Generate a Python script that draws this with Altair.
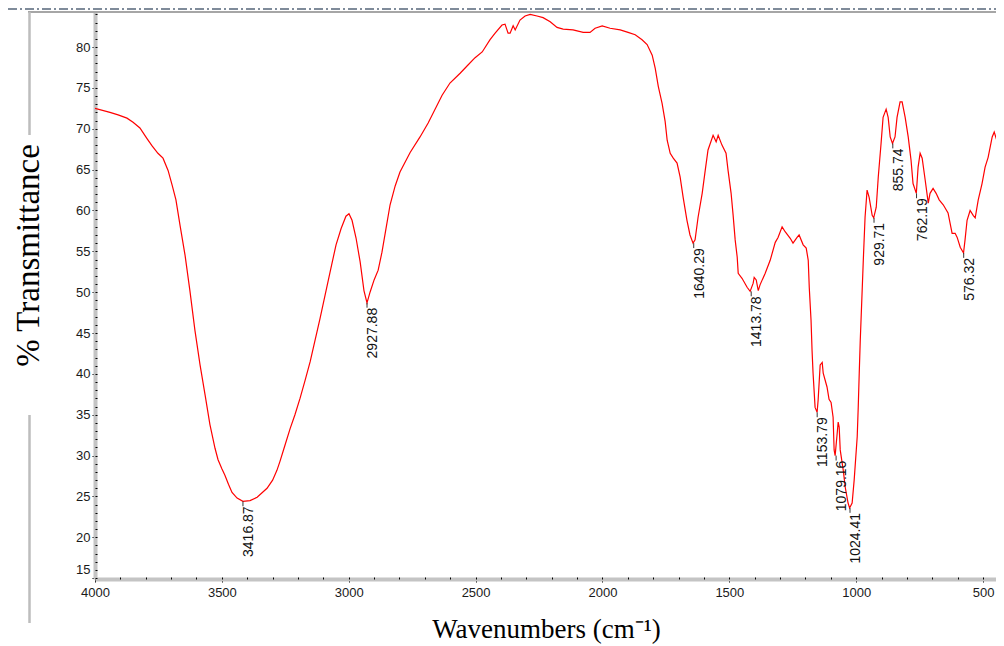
import altair as alt
import pandas as pd

# ---- spectrum (wavenumber cm-1, % transmittance) ----
wavenumber = [4000, 3941, 3909, 3874, 3850, 3823, 3795, 3775, 3752, 3732, 3712, 3696, 3681, 3665,
              3645, 3626, 3606, 3586, 3566, 3547, 3527, 3515, 3500, 3488, 3474, 3460, 3440, 3417,
              3389, 3361, 3322, 3300, 3283, 3271, 3251, 3231, 3212, 3192, 3172, 3152, 3113, 3074,
              3050, 3030, 3011, 2999, 2987, 2971,
              2955, 2940, 2928, 2916, 2900, 2884, 2869, 2853, 2837, 2817, 2798, 2758, 2719, 2687,
              2632, 2601, 2561, 2530, 2502, 2474, 2443, 2423, 2396, 2384, 2372, 2364, 2352, 2344,
              2325, 2305, 2285, 2258, 2234, 2206, 2179, 2155, 2116, 2076, 2049, 2029, 2001, 1970,
              1930, 1899, 1871, 1844, 1824, 1804, 1792, 1780, 1765, 1753, 1745, 1733, 1721, 1706,
              1694, 1682, 1667, 1655, 1643, 1635, 1623, 1607, 1595, 1584, 1564, 1552, 1544, 1529,
              1513, 1505, 1493, 1485, 1477, 1469, 1465, 1450, 1430, 1418, 1406, 1402, 1394, 1386,
              1379, 1359, 1339, 1319, 1308, 1292, 1280, 1260, 1249, 1233, 1225, 1209, 1197, 1189,
              1185, 1178, 1174, 1170, 1162, 1154, 1150, 1142, 1134, 1130, 1115, 1107, 1099, 1091,
              1087, 1083, 1075, 1071, 1067, 1063, 1051, 1043, 1032, 1026, 1016, 1008, 996, 992,
              988, 984, 976, 972, 965, 957, 949, 937, 931, 921, 913, 902, 894, 882, 874, 866, 857,
              847, 839, 827, 819, 807, 795, 784, 776, 763, 756, 748, 740, 728, 716, 709, 697, 685,
              673, 657, 638, 622, 610, 602, 590, 577, 571, 563, 551, 539, 531, 519, 504, 492, 480,
              464, 456, 444, 436, 425, 417]
transmittance = [72.5, 72.0, 71.7, 71.3, 70.8, 70.1, 68.8, 67.9, 67.0, 66.4, 64.9, 63.1, 61.3, 58.2,
                 54.5, 50.2, 45.3, 41.1, 37.4, 33.8, 30.9, 29.5, 28.4, 27.6, 26.5, 25.5, 24.8, 24.4,
                 24.5, 24.9, 26.0, 27.0, 28.2, 29.3, 31.3, 33.3, 35.0, 37.0, 39.2, 41.5, 46.8, 52.4,
                 55.8, 57.8, 59.3, 59.6, 58.8, 56.6,
                 53.7, 50.2, 48.7, 50.0, 51.5, 52.7, 54.9, 57.8, 60.7, 63.0, 64.7, 67.1, 69.0, 70.7,
                 74.1, 75.6, 76.8, 77.8, 78.7, 79.4, 80.9, 81.7, 82.7, 82.8, 81.7, 81.7, 82.6, 82.1,
                 83.3, 83.8, 84.0, 83.8, 83.6, 83.1, 82.4, 82.2, 82.1, 81.8, 81.8, 82.3, 82.6, 82.3,
                 82.1, 81.8, 81.5, 80.9, 80.3, 79.0, 77.4, 75.2, 73.1, 70.9, 68.6, 67.0, 66.4, 65.8,
                 64.1, 61.6, 58.8, 57.0, 56.0, 56.4, 59.2, 62.1, 64.9, 67.4, 69.2, 68.4, 69.2, 68.0,
                 67.0, 64.9, 62.1, 59.4, 56.4, 54.3, 52.3, 51.7, 50.6, 50.1, 51.1, 51.8, 51.5, 50.2,
                 50.9, 52.3, 53.9, 56.1, 56.7, 58.0, 57.4, 56.6, 56.0, 56.7, 57.0, 55.8, 55.4, 53.9,
                 50.6, 46.6, 42.9, 40.1, 35.9, 35.3, 36.8, 41.1, 41.4, 40.1, 38.4, 36.9, 36.5, 34.7,
                 30.7, 30.0, 32.7, 34.1, 33.5, 30.7, 28.2, 26.1, 24.2, 23.6, 24.2, 27.0, 32.3, 35.9,
                 40.1, 44.1, 50.6, 53.9, 59.2, 62.5, 61.6, 59.4, 59.1, 60.4, 64.1, 68.2, 71.4, 72.4,
                 71.4, 69.0, 68.2, 69.0, 71.4, 73.3, 73.3, 71.4, 69.0, 66.2, 63.3, 62.1, 65.3, 67.0,
                 66.4, 63.7, 60.9, 62.1, 62.7, 62.1, 61.3, 60.7, 59.7, 57.2, 57.2, 56.7, 55.5, 54.8,
                 56.4, 58.8, 60.0, 59.4, 59.1, 61.3, 63.3, 65.3, 66.5, 69.0, 69.6, 68.4, 69.8, 71.1,
                 71.4]

# ---- peak annotations ----
peak_wn = [3416.87, 2927.88, 1640.29, 1413.78, 1153.79, 1079.16, 1024.41, 929.71, 855.74, 762.19, 576.32]
peak_t = [24.4, 48.7, 56.0, 50.1, 35.3, 30.0, 23.6, 59.1, 68.2, 62.1, 54.8]
peak_labels = ["3416.87", "2927.88", "1640.29", "1413.78", "1153.79", "1079.16",
               "1024.41", "929.71", "855.74", "762.19", "576.32"]

# ---- axis ticks ----
x_major = [4000, 3500, 3000, 2500, 2000, 1500, 1000, 500]
x_minor = list(range(4000, 499, -100))
y_major = [15, 20, 25, 30, 35, 40, 45, 50, 55, 60, 65, 70, 75, 80]
y_minor = list(range(15, 85))

X_DOMAIN = [4000, 449]
Y_DOMAIN = [14.9, 84.29]
W, H = 901, 567

spec = pd.DataFrame({"wn": wavenumber, "T": transmittance})
peaks = pd.DataFrame({"wn": peak_wn, "T": peak_t, "label": peak_labels})
dummy = pd.DataFrame({"k": [0]})

xs = alt.Scale(domain=X_DOMAIN, nice=False, zero=False)
ys = alt.Scale(domain=Y_DOMAIN, nice=False, zero=False)

AX = dict(labelFont="Liberation Sans", labelFontSize=13, labelColor="#1a1a1a",
          domainColor="#c4c4c4", domainWidth=4, tickColor="#000000", tickWidth=1,
          tickSize=3, grid=False)

line = alt.Chart(spec).mark_line(color="#ff0000", strokeWidth=1.2, clip=True).encode(
    x=alt.X("wn:Q", scale=xs, axis=alt.Axis(
        values=x_major, format="d", labelPadding=4, labelFlush=False,
        title="Wavenumbers (cm⁻¹)", titleFont="Liberation Serif", titleFontSize=27,
        titleFontWeight="normal", titleColor="#000000", titleX=451, titleY=58,
        titleBaseline="alphabetic", **AX)),
    y=alt.Y("T:Q", scale=ys, axis=alt.Axis(
        values=y_major, format="d", labelPadding=2, labelFlush=3, labelFlushOffset=-2,
        title="% Transmittance", titleFont="Liberation Serif", titleFontSize=33,
        titleFontWeight="normal", titleColor="#000000", titleAngle=270,
        titleX=-57, titleY=243, titleBaseline="alphabetic", titleAlign="center", **AX)),
)

minor = alt.Chart(spec).mark_point(opacity=0).encode(
    x=alt.X("wn:Q", scale=xs, axis=alt.Axis(
        orient="top", offset=-H, values=x_minor, labels=False, domain=False,
        tickSize=2, tickColor="#000000", tickWidth=1, grid=False, title=None)),
    y=alt.Y("T:Q", scale=ys, axis=alt.Axis(
        orient="right", offset=-W, values=y_minor, labels=False, domain=False,
        tickSize=2, tickColor="#000000", tickWidth=1, grid=False, title=None)),
)

leaders = alt.Chart(peaks).transform_calculate(T2="datum.T - 0.6").mark_rule(
    color="#333333", strokeWidth=1).encode(
    x=alt.X("wn:Q", scale=xs, axis=None),
    y=alt.Y("T:Q", scale=ys, axis=None),
    y2="T2:Q",
)

texts = alt.Chart(peaks).mark_text(
    angle=270, align="right", baseline="top", dx=-5, dy=-1,
    font="Liberation Sans", fontSize=14, color="#111111").encode(
    x=alt.X("wn:Q", scale=xs, axis=None),
    y=alt.Y("T:Q", scale=ys, axis=None),
    text="label:N",
)

dash_top = alt.Chart(dummy).mark_rule(color="#56657a", strokeWidth=1.5,
                                      strokeDash=[9, 3, 2, 3]).encode(
    x=alt.value(-87), x2=alt.value(W), y=alt.value(-3))
frame_top = alt.Chart(dummy).mark_rule(color="#a6a6a6", strokeWidth=2).encode(
    x=alt.value(-67), x2=alt.value(W), y=alt.value(0))
frame_left1 = alt.Chart(dummy).mark_rule(color="#bdbdbd", strokeWidth=2.5).encode(
    x=alt.value(-65.5), y=alt.value(0), y2=alt.value(123))
frame_left2 = alt.Chart(dummy).mark_rule(color="#bdbdbd", strokeWidth=2.5).encode(
    x=alt.value(-65.5), y=alt.value(403), y2=alt.value(611))

chart = alt.layer(
    dash_top, frame_top, frame_left1, frame_left2, line, minor, leaders, texts
).resolve_axis(x="independent", y="independent").properties(
    width=W, height=H,
    autosize=alt.AutoSizeParams(type="none"),
    padding={"left": 87, "top": 4, "right": 0, "bottom": 66},
).configure_view(stroke=None).configure(background="#ffffff")

chart.save("out.html", embed_options={"renderer": "svg", "actions": False})
